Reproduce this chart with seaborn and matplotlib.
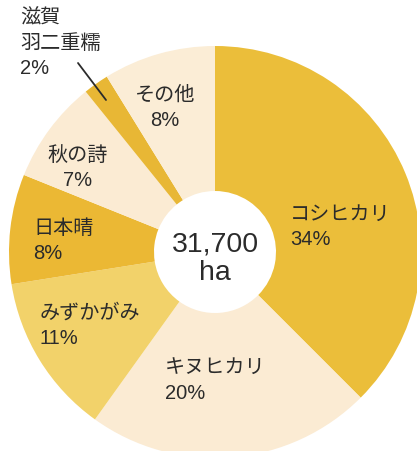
import matplotlib
matplotlib.use("Agg")
import matplotlib.pyplot as plt
import seaborn as sns

# 品種別作付面積の割合 (扇の大きさは図から読み取り)
varieties = ["コシヒカリ", "キヌヒカリ", "みずかがみ", "日本晴", "秋の詩", "滋賀\n羽二重糯", "その他"]
shares = [37.5, 22.4, 12.6, 8.6, 8.1, 2.0, 8.8]
pct_labels = ["34%", "20%", "11%", "8%", "7%", "2%", "8%"]
total_label = "31,700\nha"

colors = ["#EBBE3A", "#FBEBD3", "#F2D26A", "#EBB834", "#FBEBD3", "#E8B735", "#FBEDD6"]

sns.set_theme(style="white")
plt.rcParams["font.family"] = ["Liberation Sans", "Noto Sans CJK JP", "DejaVu Sans"]

W, H = 417, 452
fig = plt.figure(figsize=(W / 100, H / 100), dpi=100)
ax = fig.add_axes([0, 0, 1, 1])

cx, cy, R, r_hole = 215, H - 253, 206, 61
ax.pie(shares, colors=colors, startangle=90, counterclock=False,
       center=(cx, cy), radius=R,
       wedgeprops=dict(width=R - r_hole, edgecolor="none"))

ax.set_xlim(0, W)
ax.set_ylim(0, H)
ax.set_aspect("equal")
ax.axis("off")

txt = "#2b2b2b"
fs = 14.5

# ラベル位置 (画素座標, 上から)
label_pos = {
    0: (290, 227, "left"),
    1: (165, 381, "left"),
    2: (40, 326, "left"),
    3: (33, 241, "left"),
    4: (78, 168, "center"),
    6: (165, 108, "center"),
}
for i, (x, y, ha) in label_pos.items():
    ax.text(x, H - y, f"{varieties[i]}\n{pct_labels[i]}", ha=ha, va="center",
            fontsize=fs, color=txt, linespacing=1.4)

# 小さい扇は外側に
ax.text(20, H - 43, f"{varieties[5]}\n{pct_labels[5]}", ha="left", va="center",
        fontsize=fs, color=txt, linespacing=1.4)
ax.plot([78, 106], [H - 64, H - 101], color=txt, lw=1.3)

ax.text(cx, cy - 6, total_label, ha="center", va="center",
        fontsize=20.5, color=txt, linespacing=1.1)

fig.savefig("out.png", dpi=100)
